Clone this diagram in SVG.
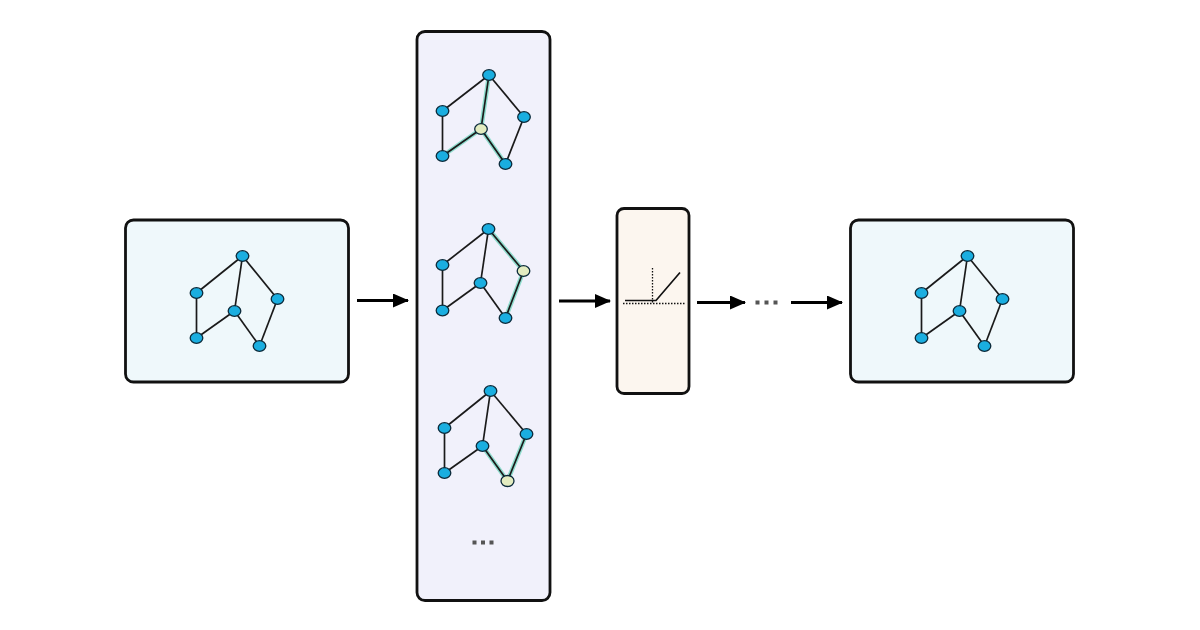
<svg xmlns="http://www.w3.org/2000/svg" width="1200" height="630" viewBox="0 0 1200 630">
<defs>
<style>
.box{stroke:#111;stroke-width:2.8}
.e{stroke:#1a1a1a;stroke-width:1.7;fill:none}
.hl{stroke:#8fdccd;stroke-width:4.5;fill:none;stroke-linecap:round}
.n{fill:#1aaee0;stroke:#0b2a3a;stroke-width:1.3}
.y{fill:#e3ecc0;stroke:#0b2a3a;stroke-width:1.3}
.conn{stroke:#000;stroke-width:2.8;fill:none}
.dot{fill:#555}
</style>
<marker id="ah" markerWidth="16" markerHeight="14" refX="15" refY="7" orient="auto" markerUnits="userSpaceOnUse">
<path d="M0,0 L16,7 L0,14 Z" fill="#000"/>
</marker>
<g id="graph">
<line class="e" x1="0" y1="0" x2="-46" y2="37"/>
<line class="e" x1="0" y1="0" x2="-8" y2="55"/>
<line class="e" x1="0" y1="0" x2="35" y2="43"/>
<line class="e" x1="-46" y1="37" x2="-46" y2="82"/>
<line class="e" x1="-46" y1="82" x2="-8" y2="55"/>
<line class="e" x1="-8" y1="55" x2="17" y2="90"/>
<line class="e" x1="35" y1="43" x2="17" y2="90"/>
</g>
</defs>
<rect width="1200" height="630" fill="#fff"/>

<g id="input">
<rect class="box" x="125.5" y="220" width="223" height="162" rx="8" fill="#eff8fb"/>
<use href="#graph" x="242.5" y="256"/>
<ellipse class="n" cx="242.5" cy="256" rx="6.3" ry="5.3"/>
<ellipse class="n" cx="196.5" cy="293" rx="6.3" ry="5.3"/>
<ellipse class="n" cx="234.5" cy="311" rx="6.3" ry="5.3"/>
<ellipse class="n" cx="277.5" cy="299" rx="6.3" ry="5.3"/>
<ellipse class="n" cx="196.5" cy="338" rx="6.3" ry="5.3"/>
<ellipse class="n" cx="259.5" cy="346" rx="6.3" ry="5.3"/>
</g>

<g id="aggregation">
<rect class="box" x="417" y="31.5" width="133" height="569" rx="8" fill="#f1f1fb"/>
<g id="g1">
<line class="hl" x1="489" y1="75" x2="481" y2="129"/>
<line class="hl" x1="481" y1="129" x2="442.5" y2="156"/>
<line class="hl" x1="481" y1="129" x2="505.5" y2="164"/>
<line class="e" x1="489" y1="75" x2="442.5" y2="111"/>
<line class="e" x1="489" y1="75" x2="481" y2="129"/>
<line class="e" x1="489" y1="75" x2="524" y2="117"/>
<line class="e" x1="442.5" y1="111" x2="442.5" y2="156"/>
<line class="e" x1="442.5" y1="156" x2="481" y2="129"/>
<line class="e" x1="481" y1="129" x2="505.5" y2="164"/>
<line class="e" x1="524" y1="117" x2="505.5" y2="164"/>
<ellipse class="n" cx="489" cy="75" rx="6.3" ry="5.3"/>
<ellipse class="n" cx="442.5" cy="111" rx="6.3" ry="5.3"/>
<ellipse class="y" cx="481" cy="129" rx="6.3" ry="5.3"/>
<ellipse class="n" cx="524" cy="117" rx="6.3" ry="5.3"/>
<ellipse class="n" cx="442.5" cy="156" rx="6.3" ry="5.3"/>
<ellipse class="n" cx="505.5" cy="164" rx="6.3" ry="5.3"/>
</g>
<g id="g2">
<line class="hl" x1="488.5" y1="229" x2="523.5" y2="271"/>
<line class="hl" x1="523.5" y1="271" x2="505.5" y2="318"/>
<line class="e" x1="488.5" y1="229" x2="442.5" y2="265"/>
<line class="e" x1="488.5" y1="229" x2="480.5" y2="283"/>
<line class="e" x1="488.5" y1="229" x2="523.5" y2="271"/>
<line class="e" x1="442.5" y1="265" x2="442.5" y2="310.5"/>
<line class="e" x1="442.5" y1="310.5" x2="480.5" y2="283"/>
<line class="e" x1="480.5" y1="283" x2="505.5" y2="318"/>
<line class="e" x1="523.5" y1="271" x2="505.5" y2="318"/>
<ellipse class="n" cx="488.5" cy="229" rx="6.3" ry="5.3"/>
<ellipse class="n" cx="442.5" cy="265" rx="6.3" ry="5.3"/>
<ellipse class="n" cx="480.5" cy="283" rx="6.3" ry="5.3"/>
<ellipse class="y" cx="523.5" cy="271" rx="6.3" ry="5.3"/>
<ellipse class="n" cx="442.5" cy="310.5" rx="6.3" ry="5.3"/>
<ellipse class="n" cx="505.5" cy="318" rx="6.3" ry="5.3"/>
</g>
<g id="g3">
<line class="hl" x1="482.5" y1="446" x2="507.5" y2="481"/>
<line class="hl" x1="526.5" y1="434" x2="507.5" y2="481"/>
<line class="e" x1="490.5" y1="391" x2="444.5" y2="428"/>
<line class="e" x1="490.5" y1="391" x2="482.5" y2="446"/>
<line class="e" x1="490.5" y1="391" x2="526.5" y2="434"/>
<line class="e" x1="444.5" y1="428" x2="444.5" y2="473"/>
<line class="e" x1="444.5" y1="473" x2="482.5" y2="446"/>
<line class="e" x1="482.5" y1="446" x2="507.5" y2="481"/>
<line class="e" x1="526.5" y1="434" x2="507.5" y2="481"/>
<ellipse class="n" cx="490.5" cy="391" rx="6.3" ry="5.3"/>
<ellipse class="n" cx="444.5" cy="428" rx="6.3" ry="5.3"/>
<ellipse class="n" cx="482.5" cy="446" rx="6.3" ry="5.3"/>
<ellipse class="n" cx="526.5" cy="434" rx="6.3" ry="5.3"/>
<ellipse class="n" cx="444.5" cy="473" rx="6.3" ry="5.3"/>
<ellipse class="y" cx="507.5" cy="481" rx="6.5" ry="5.5"/>
</g>
<rect class="dot" x="472.5" y="540.5" width="4" height="4"/>
<rect class="dot" x="481" y="540.5" width="4" height="4"/>
<rect class="dot" x="489.5" y="540.5" width="4" height="4"/>
</g>

<g id="activation">
<rect class="box" x="617" y="208.5" width="72" height="185" rx="7" fill="#fcf6ef"/>
<line x1="623" y1="303.5" x2="685" y2="303.5" stroke="#111" stroke-width="1.3" stroke-dasharray="1.5,1.5"/>
<line x1="652.5" y1="268" x2="652.5" y2="303" stroke="#111" stroke-width="1.3" stroke-dasharray="1.5,1.5"/>
<polyline points="625,300.5 656,300.5 680,272.5" fill="none" stroke="#111" stroke-width="1.7"/>
</g>

<g id="output">
<rect class="box" x="850.5" y="220" width="223" height="162" rx="8" fill="#eff8fb"/>
<use href="#graph" x="967.5" y="256"/>
<ellipse class="n" cx="967.5" cy="256" rx="6.3" ry="5.3"/>
<ellipse class="n" cx="921.5" cy="293" rx="6.3" ry="5.3"/>
<ellipse class="n" cx="959.5" cy="311" rx="6.3" ry="5.3"/>
<ellipse class="n" cx="1002.5" cy="299" rx="6.3" ry="5.3"/>
<ellipse class="n" cx="921.5" cy="338" rx="6.3" ry="5.3"/>
<ellipse class="n" cx="984.5" cy="346" rx="6.3" ry="5.3"/>
</g>

<g id="connectors">
<line class="conn" x1="357" y1="300.5" x2="408" y2="300.5" marker-end="url(#ah)"/>
<line class="conn" x1="559" y1="301" x2="610" y2="301" marker-end="url(#ah)"/>
<line class="conn" x1="697" y1="302.5" x2="745" y2="302.5" marker-end="url(#ah)"/>
<rect class="dot" x="755.5" y="300.5" width="4" height="4"/>
<rect class="dot" x="764.5" y="300.5" width="4" height="4"/>
<rect class="dot" x="773.5" y="300.5" width="4" height="4"/>
<line class="conn" x1="791" y1="302.5" x2="842" y2="302.5" marker-end="url(#ah)"/>
</g>
</svg>
